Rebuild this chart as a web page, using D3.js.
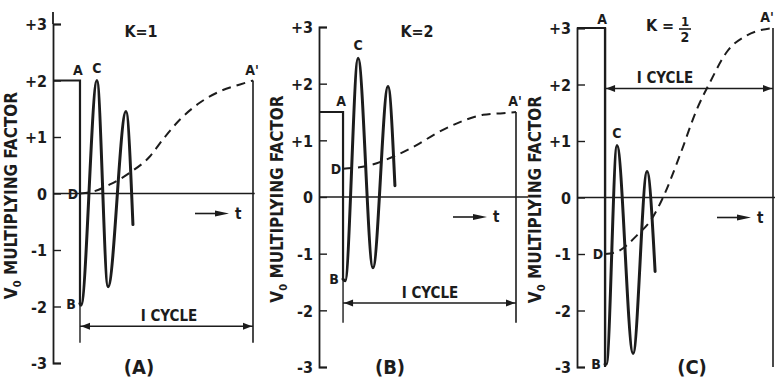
<!DOCTYPE html>
<html><head><meta charset="utf-8">
<script src="https://cdn.jsdelivr.net/npm/d3@7"></script>
<style>
html,body{margin:0;padding:0;background:#fff;}
svg text{font-family:"Liberation Sans Narrow","DejaVu Sans Condensed",sans-serif;font-weight:bold;fill:#1c1c1c;}
</style></head>
<body><svg id="c" width="775" height="383"></svg>
<script>
// ---------- data ----------
const panelNames = ["(A)", "(B)", "(C)"];
const kLabels = ["K=1", "K=2", "K=1/2"];
const yTicks = [3, 2, 1, 0, -1, -2, -3];
const yTickLabels = ["+3", "+2", "+1", "0", "-1", "-2", "-3"];
const yTitle = "MULTIPLYING FACTOR";
const cycleLabel = "I CYCLE";
// t = 0 at switching point A, t = 1 one cycle later (A')
const axisT = [-0.156, -0.139, -0.167];
const stepLevels = [2, 1.5, 3];
const bLevels = [-1.95, -1.45, -2.95];
const dLevels = [0, 0.5, -1];
// ringing waveform (t, value)
const ringA = [[0.006, -1.98], [0.098, 2.0], [0.162, -1.65], [0.266, 1.45], [0.306, -0.55]];
const ringB = [[0.012, -1.48], [0.087, 2.45], [0.173, -1.25], [0.26, 1.95], [0.30, 0.2]];
const ringC = [[0.008, -2.95], [0.071, 0.92], [0.167, -2.76], [0.25, 0.46], [0.298, -1.31]];
// dashed envelope (t, value)
const dashA = [[0, 0], [0.058, 0.02], [0.173, 0.16], [0.289, 0.37], [0.405, 0.66], [0.48, 0.96], [0.578, 1.31], [0.694, 1.61], [0.81, 1.81], [0.925, 1.93], [1, 2]];
const dashB = [[0, 0.5], [0.156, 0.56], [0.289, 0.71], [0.428, 0.92], [0.543, 1.13], [0.659, 1.3], [0.81, 1.45], [0.925, 1.48], [1, 1.5]];
const dashC = [[0, -1], [0.071, -0.96], [0.19, -0.67], [0.286, -0.34], [0.345, 0], [0.446, 0.75], [0.548, 1.57], [0.625, 2.04], [0.726, 2.58], [0.845, 2.87], [1, 3]];
const cycleLevels = [-2.35, -1.87, 1.93];
const guideBottoms = [-2.64, -2.22, -3.0];
const zeroEndT = [1.01, 1.07, 1.02];

const rings = [ringA, ringB, ringC];
const dashes = [dashA, dashB, dashC];

// ---------- layout ----------
const axisX = [53, 319, 577];
const aPrimeX = [253, 516, 773];
const yTop = [24, 27, 28];
const yBot = [363, 367, 367];
const cycleTextX = [169, 430, 665];

const svg = d3.select("#c");
const ink = "#1c1c1c";

function arrowHead(g, x, y, dir, len, half) {
  g.append("path")
    .attr("d", `M${x},${y} L${x - dir * len},${y - half} L${x - dir * len},${y + half} Z`)
    .attr("fill", ink);
}

for (let i = 0; i < 3; i++) {
  const x = d3.scaleLinear().domain([axisT[i], 1]).range([axisX[i], aPrimeX[i]]);
  const y = d3.scaleLinear().domain([-3, 3]).range([yBot[i], yTop[i]]);
  const g = svg.append("g");

  // y axis
  const ax = g.append("g").attr("transform", `translate(${x(axisT[i])},0)`)
    .call(d3.axisLeft(y).tickValues(yTicks).tickFormat((d, j) => yTickLabels[j])
      .tickSize(-8).tickSizeOuter(-8).tickPadding(6));
  ax.select(".domain").attr("stroke", ink).attr("stroke-width", 1.8);
  ax.selectAll(".tick line").attr("stroke", ink).attr("stroke-width", 1.4);
  ax.selectAll(".tick text").attr("font-size", 16).attr("font-family", null).attr("fill", ink).attr("dy", "0.36em");
  if (i === 0) {
    g.append("line").attr("x1", x(axisT[i])).attr("x2", x(axisT[i]))
      .attr("y1", y(3)).attr("y2", y(3) - 12).attr("stroke", ink).attr("stroke-width", 1.8);
  }

  // y title
  const tx = axisX[i] - 36, ty = (yTop[i] + yBot[i]) / 2 + 2;
  const tt = g.append("text").attr("transform", `translate(${tx},${ty}) rotate(-90)`)
    .attr("text-anchor", "middle").attr("font-size", 17);
  tt.append("tspan").text("V");
  tt.append("tspan").attr("font-size", 11).attr("dy", 4).text("0");
  tt.append("tspan").attr("dy", -4).text(" " + yTitle);

  // zero line
  g.append("line").attr("x1", x(axisT[i])).attr("x2", x(zeroEndT[i]))
    .attr("y1", y(0)).attr("y2", y(0)).attr("stroke", ink).attr("stroke-width", 1.5);

  // step input and vertical drop A -> B
  g.append("path").datum([[axisT[i], stepLevels[i]], [0, stepLevels[i]], [0, bLevels[i]]])
    .attr("d", d3.line().x(d => x(d[0])).y(d => y(d[1])))
    .attr("fill", "none").attr("stroke", ink).attr("stroke-width", 2.2);

  // guide verticals
  g.append("line").attr("x1", x(0)).attr("x2", x(0))
    .attr("y1", y(bLevels[i])).attr("y2", y(guideBottoms[i])).attr("stroke", ink).attr("stroke-width", 1.4);
  g.append("line").attr("x1", x(1)).attr("x2", x(1))
    .attr("y1", y(stepLevels[i])).attr("y2", y(guideBottoms[i])).attr("stroke", ink).attr("stroke-width", 1.6);
  if (i === 2) {
    g.append("line").attr("x1", x(0)).attr("x2", x(0))
      .attr("y1", y(3)).attr("y2", y(-3)).attr("stroke", ink).attr("stroke-width", 2.2);
  }

  // ringing
  g.append("path").datum([[0, bLevels[i]]].concat(rings[i]))
    .attr("d", d3.line().x(d => x(d[0])).y(d => y(d[1])).curve(d3.curveMonotoneX))
    .attr("fill", "none").attr("stroke", ink).attr("stroke-width", 3).attr("stroke-linecap", "round");

  // dashed envelope
  g.append("path").datum(dashes[i])
    .attr("d", d3.line().x(d => x(d[0])).y(d => y(d[1])).curve(d3.curveMonotoneX))
    .attr("fill", "none").attr("stroke", ink).attr("stroke-width", 2).attr("stroke-dasharray", "9,6");

  // cycle dimension arrow
  const cy = y(cycleLevels[i]);
  g.append("line").attr("x1", x(0)).attr("x2", x(1)).attr("y1", cy).attr("y2", cy)
    .attr("stroke", ink).attr("stroke-width", 1.5);
  arrowHead(g, x(0) + 1, cy, -1, 9, 3.5);
  arrowHead(g, x(1) - 1, cy, 1, 9, 3.5);
  g.append("text").attr("x", cycleTextX[i]).attr("y", cy - 5)
    .attr("text-anchor", "middle").attr("font-size", 15).text(cycleLabel);

  // t arrow
  const tax = [195, 453, 717][i], tay = y(0) + 20;
  g.append("line").attr("x1", tax).attr("x2", tax + 26).attr("y1", tay).attr("y2", tay)
    .attr("stroke", ink).attr("stroke-width", 1.6);
  arrowHead(g, tax + 34, tay, 1, 14, 3);
  g.append("text").attr("x", tax + 40).attr("y", tay + 5).attr("font-size", 15).text("t");

  // point labels
  const lab = (s, px, py) => g.append("text").attr("x", px).attr("y", py)
    .attr("text-anchor", "middle").attr("font-size", 14).text(s);
  const aY = y(stepLevels[i]) - 6;
  if (i < 2) {
    lab("A", x(0) - 2, aY);
    lab("A'", x(1) - 1, aY);
  } else {
    lab("A", x(0) - 3, y(3) - 4);
    lab("A'", x(1) - 6, y(3) - 6);
  }
  lab("C", x(rings[i][1][0]), y(rings[i][1][1]) - 8);
  lab("D", x(0) - 7, y(dLevels[i]) + 5);
  lab("B", x(0) - 9, y(bLevels[i]) + 5);

  // K label
  const kx = [141, 417, 660][i];
  if (i < 2) {
    g.append("text").attr("x", kx).attr("y", 37).attr("text-anchor", "middle")
      .attr("font-size", 16).text(kLabels[i]);
  } else {
    const parts = kLabels[i].split("=")[1].split("/");
    g.append("text").attr("x", kx).attr("y", 31).attr("text-anchor", "middle")
      .attr("font-size", 16).text("K =");
    g.append("text").attr("x", kx + 25).attr("y", 26).attr("text-anchor", "middle")
      .attr("font-size", 13).text(parts[0]);
    g.append("line").attr("x1", kx + 19).attr("x2", kx + 31).attr("y1", 29).attr("y2", 29)
      .attr("stroke", ink).attr("stroke-width", 1.6);
    g.append("text").attr("x", kx + 25).attr("y", 42).attr("text-anchor", "middle")
      .attr("font-size", 14).text(parts[1]);
  }

  // panel name
  const px = [139, 390, 692][i];
  g.append("text").attr("x", px).attr("y", 374).attr("text-anchor", "middle")
    .attr("font-size", 20).attr("font-weight", "normal").text(panelNames[i]);
}
</script></body></html>
